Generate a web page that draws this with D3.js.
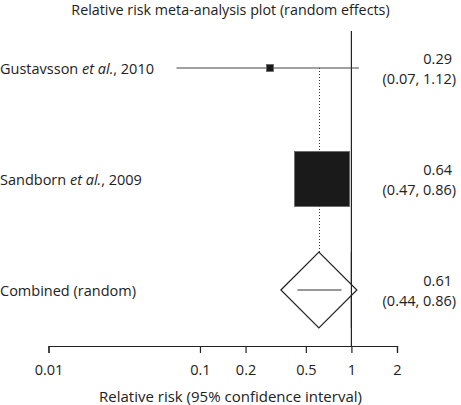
<!DOCTYPE html>
<html><head><meta charset="utf-8">
<script src="https://cdn.jsdelivr.net/npm/d3@7"></script>
<style>
body{margin:0;background:#fff;}
svg text{font-family:"Open Sans","Noto Sans",sans-serif;fill:#222;}
</style></head>
<body><svg id="c" width="461" height="405"></svg>
<script>
const studyNames = ["Gustavsson", "Sandborn", "Combined (random)"];
const studyYears = ["2010", "2009", ""];
const rr = [0.29, 0.64, 0.61];
const lower = [0.07, 0.47, 0.44];
const upper = [1.12, 0.86, 0.86];
const weights = [1.6, 98.4];
const tickValues = [0.01, 0.1, 0.2, 0.5, 1, 2];
const tickLabels = ["0.01", "0.1", "0.2", "0.5", "1", "2"];
const estLabels = ["0.29", "0.64", "0.61"];
const ciLabels = ["(0.07, 1.12)", "(0.47, 0.86)", "(0.44, 0.86)"];

const svg = d3.select("#c");
const x = d3.scaleLog().domain([0.01, 2]).range([48.5, 397]);
const y = d3.scalePoint().domain([0,1,2]).range([68, 290]);
const size = d3.scaleSqrt().domain([0, 98.4]).range([0, 55]);
const axisY = 346;
const fs = "14.5px";

// title
svg.append("text").attr("x", 230.5).attr("y", 15).attr("text-anchor","middle")
  .style("font-size","14.3px").text("Relative risk meta-analysis plot (random effects)");

// reference line at 1
svg.append("line").attr("x1", x(1)).attr("x2", x(1)).attr("y1", 31).attr("y2", axisY)
  .attr("stroke","#222").attr("stroke-width",1.2);

// dotted pooled line
const diamondHalf = 38;
svg.append("line").attr("x1", Math.round(x(rr[2]))+0.5).attr("x2", Math.round(x(rr[2]))+0.5)
  .attr("y1", y(0)).attr("y2", y(2)-diamondHalf)
  .attr("stroke","#333").attr("stroke-width",1).attr("stroke-dasharray","1,2");

// study CIs and boxes
[0,1].forEach(i => {
  svg.append("line").attr("x1", x(lower[i])).attr("x2", x(upper[i]))
    .attr("y1", y(i)).attr("y2", y(i)).attr("stroke","#444").attr("stroke-width",1.2);
  const s = size(weights[i]);
  svg.append("rect").attr("x", x(rr[i]) - s/2).attr("y", y(i) - s/2)
    .attr("width", s).attr("height", s).attr("fill","#1a1a1a").attr("stroke","#666").attr("stroke-width",0.8);
});

// diamond for combined
const cx = x(rr[2]), cy = y(2);
svg.append("path")
  .attr("d", `M${cx-diamondHalf},${cy}L${cx},${cy-diamondHalf}L${cx+diamondHalf},${cy}L${cx},${cy+diamondHalf}Z`)
  .attr("fill","#fff").attr("stroke","#222").attr("stroke-width",1.2);
svg.append("line").attr("x1", x(1)).attr("x2", x(1)).attr("y1", cy-diamondHalf).attr("y2", cy+diamondHalf)
  .attr("stroke","#222").attr("stroke-width",1.2);
svg.append("line").attr("x1", x(lower[2])).attr("x2", x(upper[2]))
  .attr("y1", cy).attr("y2", cy).attr("stroke","#333").attr("stroke-width",1.2);

// left labels
studyNames.forEach((n,i) => {
  const t = svg.append("text").attr("x", 0).attr("y", y(i)+5.5).style("font-size",fs);
  if (studyYears[i]) {
    t.append("tspan").text(n + " ");
    t.append("tspan").style("font-style","italic").text("et al.");
    t.append("tspan").text(", " + studyYears[i]);
  } else t.text(n);
});

// right labels
estLabels.forEach((e,i) => {
  svg.append("text").attr("x", 452).attr("y", y(i)-4.5).attr("text-anchor","end")
    .style("font-size",fs).text(e);
  svg.append("text").attr("x", 456).attr("y", y(i)+15.5).attr("text-anchor","end")
    .style("font-size",fs).text(ciLabels[i]);
});

// axis
const axis = d3.axisBottom(x).tickValues(tickValues)
  .tickFormat((d,i) => tickLabels[i]).tickSize(7).tickPadding(12);
const g = svg.append("g").attr("transform", `translate(0,${axisY})`).call(axis);
g.select(".domain").attr("stroke","#222").attr("stroke-width",1.2);
g.selectAll(".tick line").attr("stroke","#222").attr("stroke-width",1.2);
g.selectAll(".tick text").style("font-size",fs).attr("fill","#222")
  .style("font-family",'"Open Sans","Noto Sans",sans-serif');

svg.append("text").attr("x", 230.5).attr("y", 402).attr("text-anchor","middle")
  .style("font-size","15px").text("Relative risk (95% confidence interval)");
</script></body></html>
